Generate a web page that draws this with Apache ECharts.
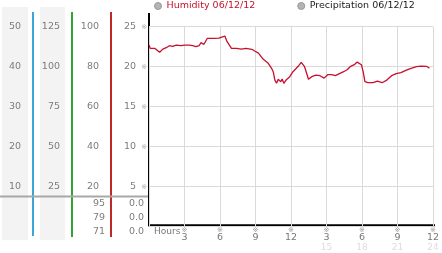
<!DOCTYPE html>
<html><head><meta charset="utf-8">
<script src="https://cdn.jsdelivr.net/npm/echarts@6/dist/echarts.min.js"></script>
<style>html,body{margin:0;padding:0;background:#fff}#c{width:442px;height:253px}</style>
</head><body><div id="c"></div>
<script>
const hours = [0,0.1,0.48,0.64,0.9,1.17,1.45,1.73,2.0,2.3,2.7,3.0,3.4,3.7,3.96,4.24,4.38,4.65,4.93,5.5,5.9,6.0,6.41,6.6,6.97,7.4,7.8,8.2,8.69,8.97,9.25,9.66,10.08,10.36,10.5,10.64,10.78,10.92,11.14,11.25,11.4,11.61,11.9,12.17,12.45,12.65,12.87,13.0,13.15,13.48,13.75,14.1,14.45,14.8,15.1,15.45,15.75,16.1,16.45,16.75,17.0,17.35,17.6,17.75,17.95,18.1,18.25,18.5,18.95,19.3,19.7,20.1,20.5,20.9,21.3,21.75,22.15,22.6,23.0,23.45,23.7];
const humidity = [90.8,89.2,89.2,88.5,87.2,88.8,89.5,90.5,90.2,90.8,90.5,90.8,90.8,90.5,90.0,90.5,92.0,91.2,94.2,94.2,94.3,95.3,95.3,92.5,89.2,89.2,88.8,89.2,88.7,87.7,86.8,83.7,81.7,79.2,77.5,73.3,71.7,73.7,72.5,73.8,71.7,73.5,75,77.5,79.2,80.5,82.2,81.5,80,73.7,75,75.8,75.5,74.3,76,76,75.5,76.5,77.5,78.5,80,81,82.3,81.5,81,77.5,72.5,72,72,72.8,72,73.3,75.5,76.5,77,78.3,79.2,80,80.3,80.2,79.2];
const precipitation = [];
const legendNames = ['Humidity 06/12/12','Precipitation 06/12/12'];
const xTickLabels = ['Hours','3','6','9','12','3','6','9','12'];
const xTickLabels2 = ['','','','','','15','18','21','24'];
const col1Ticks = [10,20,30,40,50];
const col2Ticks = [25,50,75,100,125];
const humTicks = [20,40,60,80,100];
const redTicks = [5,10,15,20,25];
const humStats = ['95','79','71'];
const precipStats = ['0.0','0.0','0.0'];

const FONT = 'DejaVu Sans';
const LBL = '#7c7c7c';
const chart = echarts.init(document.getElementById('c'));

function sideAxis(max, interval, ticks, offset) {
  return {
    type: 'value', position: 'left', min: 0, max: max, interval: interval, offset: offset,
    axisLine: {show: false}, axisTick: {show: false}, splitLine: {show: false},
    axisLabel: {margin: 8, color: LBL, fontSize: 9.5, fontFamily: FONT,
      formatter: v => ticks.includes(v) ? String(v) : ''}
  };
}

const graphics = [
  {type: 'rect', z: -10, shape: {x: 2, y: 7, width: 26, height: 233}, style: {fill: '#f3f3f3'}},
  {type: 'rect', z: -10, shape: {x: 40, y: 7, width: 25, height: 233}, style: {fill: '#f3f3f3'}},
  {type: 'line', shape: {x1: 33, y1: 12, x2: 33, y2: 236}, style: {stroke: '#3aa6d8', lineWidth: 2}},
  {type: 'line', shape: {x1: 72, y1: 12, x2: 72, y2: 237}, style: {stroke: '#33a333', lineWidth: 2}},
  {type: 'line', shape: {x1: 111, y1: 12, x2: 111, y2: 237}, style: {stroke: '#c02828', lineWidth: 2}},
  {type: 'line', shape: {x1: 0, y1: 196.5, x2: 148, y2: 196.5}, style: {stroke: '#a8a8a8', lineWidth: 2}},
  {type: 'line', shape: {x1: 149, y1: 13, x2: 149, y2: 226.3}, style: {stroke: '#000', lineWidth: 2}},
  {type: 'line', shape: {x1: 148, y1: 225.3, x2: 435, y2: 225.3}, style: {stroke: '#000', lineWidth: 2}},
  {type: 'text', x: 154, y: 232, style: {text: xTickLabels[0], fill: '#777', font: '9px ' + FONT, align: 'left', verticalAlign: 'middle', textAlign: 'left', textVerticalAlign: 'middle'}}
];
humStats.forEach((s, i) => graphics.push({type: 'text', x: 105, y: 204 + i * 14,
  style: {text: s, fill: LBL, font: '9.5px ' + FONT, align: 'right', verticalAlign: 'middle', textAlign: 'right', textVerticalAlign: 'middle'}}));
precipStats.forEach((s, i) => graphics.push({type: 'text', x: 144, y: 204 + i * 14,
  style: {text: s, fill: LBL, font: '9.5px ' + FONT, align: 'right', verticalAlign: 'middle', textAlign: 'right', textVerticalAlign: 'middle'}}));

chart.setOption({
  animation: false,
  textStyle: {fontFamily: FONT},
  grid: {left: 149, top: 26.7, width: 287.7, height: 200, containLabel: false},
  legend: {
    left: 154, top: 1, padding: 0, itemGap: 42, itemWidth: 7, itemHeight: 7, icon: 'circle',
    itemStyle: {color: '#b4b4b4', borderColor: '#999', borderWidth: 1},
    textStyle: {fontSize: 9.5, fontFamily: FONT},
    data: [
      {name: legendNames[0], textStyle: {color: '#c8102e'}},
      {name: legendNames[1], textStyle: {color: '#222'}}
    ]
  },
  xAxis: {
    type: 'value', min: 0, max: 24, interval: 3,
    axisLine: {show: false}, axisTick: {show: false},
    splitLine: {show: true, lineStyle: {color: '#dadada', width: 1}},
    axisLabel: {
      margin: 0.5, showMinLabel: true, showMaxLabel: true,
      formatter: v => {
        const i = Math.round(v / 3);
        if (i === 0) return '';
        return '{m|※}\n{d|' + xTickLabels[i] + '}\n{f|' + (xTickLabels2[i] || ' ') + '}';
      },
      rich: {
        m: {fontSize: 7, lineHeight: 6, color: '#999', fontFamily: FONT},
        d: {fontSize: 9.5, lineHeight: 9, color: '#777', fontFamily: FONT},
        f: {fontSize: 9, lineHeight: 10, color: '#dcdcdc', fontFamily: FONT}
      }
    }
  },
  yAxis: [
    {
      type: 'value', position: 'left', min: 0, max: 25, interval: 5, offset: 0,
      axisLine: {show: false}, axisTick: {show: false},
      splitLine: {show: true, lineStyle: {color: '#dadada', width: 1}},
      axisLabel: {margin: 2, formatter: v => redTicks.includes(v) ? '{v|' + v + '}{m|※}' : '',
        rich: {v: {color: LBL, fontSize: 9.5, fontFamily: FONT}, m: {fontSize: 7, color: '#aaa', padding: [0, 0, 0, 5], fontFamily: FONT}}}
    },
    sideAxis(100, 20, humTicks, 42),
    sideAxis(125, 25, col2Ticks, 81),
    sideAxis(50, 10, col1Ticks, 120)
  ],
  graphic: graphics,
  series: [
    {name: legendNames[0], type: 'line', yAxisIndex: 1, showSymbol: false, symbol: 'none',
      lineStyle: {color: '#c8102e', width: 1.3}, itemStyle: {color: '#c8102e'},
      data: hours.map((h, i) => [h, humidity[i]])},
    {name: legendNames[1], type: 'line', yAxisIndex: 0, showSymbol: false, symbol: 'none',
      lineStyle: {color: '#2255aa', width: 1.3}, itemStyle: {color: '#2255aa'},
      data: precipitation}
  ]
});
</script>
</body></html>
